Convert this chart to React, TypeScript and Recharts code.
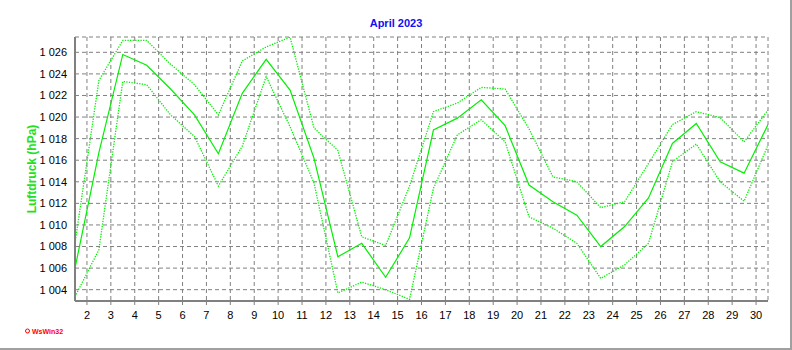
import React from 'react';
import { LineChart, Line, XAxis, YAxis, CartesianGrid } from 'recharts';

// Daily air pressure, April 2023 (hPa)
const days = [
  1, 2, 3, 4, 5, 6, 7, 8, 9, 10, 11, 12, 13, 14, 15,
  16, 17, 18, 19, 20, 21, 22, 23, 24, 25, 26, 27, 28, 29, 30,
];
const pressureMax = [
  1008.3, 1023.4, 1027.1, 1027.1, 1024.9, 1023.0, 1020.2, 1025.2, 1026.5, 1027.4,
  1019.0, 1016.9, 1008.9, 1008.1, 1013.6, 1020.5, 1021.3, 1022.75, 1022.6, 1018.9,
  1014.45, 1014.0, 1011.6, 1012.15, 1015.7, 1019.3, 1020.5, 1019.95, 1017.7, 1020.65,
];
const pressureMean = [
  1006.0, 1016.7, 1025.8, 1024.8, 1022.6, 1020.2, 1016.6, 1022.2, 1025.35, 1022.5,
  1016.2, 1007.05, 1008.3, 1005.15, 1008.8, 1018.8, 1019.9, 1021.6, 1019.2, 1013.7,
  1012.15, 1010.9, 1008.0, 1009.85, 1012.5, 1017.55, 1019.4, 1015.85, 1014.8, 1019.3,
];
const pressureMin = [
  1003.35, 1007.7, 1023.3, 1023.0, 1020.2, 1018.2, 1013.6, 1017.3, 1023.75, 1019.1,
  1013.9, 1003.7, 1004.7, 1004.0, 1003.1, 1013.4, 1018.35, 1019.75, 1017.7, 1010.75,
  1009.7, 1008.3, 1005.05, 1006.3, 1008.3, 1015.85, 1017.5, 1014.0, 1012.2, 1017.4,
];
const dayTicks = [
  2, 3, 4, 5, 6, 7, 8, 9, 10, 11, 12, 13, 14, 15, 16,
  17, 18, 19, 20, 21, 22, 23, 24, 25, 26, 27, 28, 29, 30,
];
const pressureTicks = [1004, 1006, 1008, 1010, 1012, 1014, 1016, 1018, 1020, 1022, 1024, 1026];

// values are daily, plotted at noon of each day
const data = days.map((d, i) => ({
  t: d + 0.5,
  max: pressureMax[i],
  mean: pressureMean[i],
  min: pressureMin[i],
}));

// small ticks every 4 hours along the time axis
const minorTicks: number[] = [];
for (let k = 0; k <= (days.length - 1) * 6; k++) minorTicks.push(days[0] + 0.5 + k / 6);

const X_DOMAIN: [number, number] = [1.5, 30.5];
const Y_DOMAIN: [number, number] = [1002.95, 1027.42];
const FONT = 'Arial, "Liberation Sans", sans-serif';
const GREEN = '#00f000';

const formatPressure = (v: number) => `${Math.floor(v / 1000)} ${String(v % 1000).padStart(3, '0')}`;

export default function App() {
  return (
    <div
      style={{
        position: 'relative',
        width: 792,
        height: 350,
        boxSizing: 'border-box',
        borderRight: '2px solid #a0a0a0',
        borderBottom: '2px solid #a0a0a0',
        background: '#fff',
        fontFamily: FONT,
      }}
    >
      <style>{'body{margin:0}'}</style>

      <div
        style={{
          position: 'absolute',
          left: 396,
          top: 23,
          transform: 'translate(-50%, -50%)',
          color: '#1010f0',
          fontWeight: 'bold',
          fontSize: 11,
          whiteSpace: 'nowrap',
        }}
      >
        April 2023
      </div>

      <div
        style={{
          position: 'absolute',
          left: 32,
          top: 169,
          transform: 'translate(-50%, -50%) rotate(-90deg)',
          color: '#22e022',
          fontWeight: 'bold',
          fontSize: 12,
          whiteSpace: 'nowrap',
        }}
      >
        Luftdruck (hPa)
      </div>

      <div
        style={{
          position: 'absolute',
          left: 25,
          top: 331,
          transform: 'translateY(-50%)',
          color: '#ff0000',
          fontWeight: 'bold',
          fontSize: 7,
          whiteSpace: 'nowrap',
          display: 'flex',
          alignItems: 'center',
        }}
      >
        <span
          style={{
            display: 'inline-block',
            width: 3,
            height: 3,
            border: '1px solid #ff0000',
            borderRadius: '50%',
            marginRight: 2,
          }}
        />
        WsWin32
      </div>

      <LineChart
        width={790}
        height={348}
        data={data}
        margin={{ top: 37, right: 22, bottom: 17, left: 15 }}
        style={{ position: 'absolute', left: 0, top: 0 }}
      >
        <CartesianGrid stroke="#808080" strokeDasharray="4 3" fill="none" />
        <XAxis
          xAxisId="minor"
          type="number"
          dataKey="t"
          domain={X_DOMAIN}
          allowDataOverflow
          ticks={minorTicks}
          interval={0}
          tick={false}
          tickSize={3}
          tickLine={{ stroke: '#808080' }}
          axisLine={false}
          height={0}
        />
        <XAxis
          type="number"
          dataKey="t"
          domain={X_DOMAIN}
          allowDataOverflow
          ticks={dayTicks}
          interval={0}
          tickSize={4}
          tickMargin={6}
          tickLine={{ stroke: '#808080' }}
          axisLine={{ stroke: '#808080', strokeWidth: 2 }}
          tick={{ fill: '#000', fontSize: 11, fontFamily: FONT }}
          height={30}
        />
        <XAxis
          xAxisId="top"
          orientation="top"
          type="number"
          dataKey="t"
          domain={X_DOMAIN}
          allowDataOverflow
          tick={false}
          tickLine={false}
          axisLine={{ stroke: '#000', strokeWidth: 1.5 }}
          height={0}
        />
        <YAxis
          type="number"
          domain={Y_DOMAIN}
          allowDataOverflow
          ticks={pressureTicks}
          interval={0}
          tickFormatter={formatPressure}
          tickSize={0}
          tickMargin={8}
          tickLine={false}
          axisLine={{ stroke: '#808080', strokeWidth: 2 }}
          tick={{ fill: '#000', fontSize: 11, fontFamily: FONT }}
          width={60}
        />
        <YAxis
          yAxisId="right"
          orientation="right"
          type="number"
          domain={Y_DOMAIN}
          allowDataOverflow
          tick={false}
          tickLine={false}
          axisLine={{ stroke: '#000', strokeWidth: 1.5 }}
          width={0}
        />
        <Line
          dataKey="max"
          stroke={GREEN}
          strokeWidth={1.3}
          strokeDasharray="1.3 1.3"
          dot={false}
          isAnimationActive={false}
        />
        <Line
          dataKey="mean"
          stroke={GREEN}
          strokeWidth={1.2}
          dot={false}
          isAnimationActive={false}
        />
        <Line
          dataKey="min"
          stroke={GREEN}
          strokeWidth={1.3}
          strokeDasharray="1.3 1.3"
          dot={false}
          isAnimationActive={false}
        />
      </LineChart>
    </div>
  );
}
